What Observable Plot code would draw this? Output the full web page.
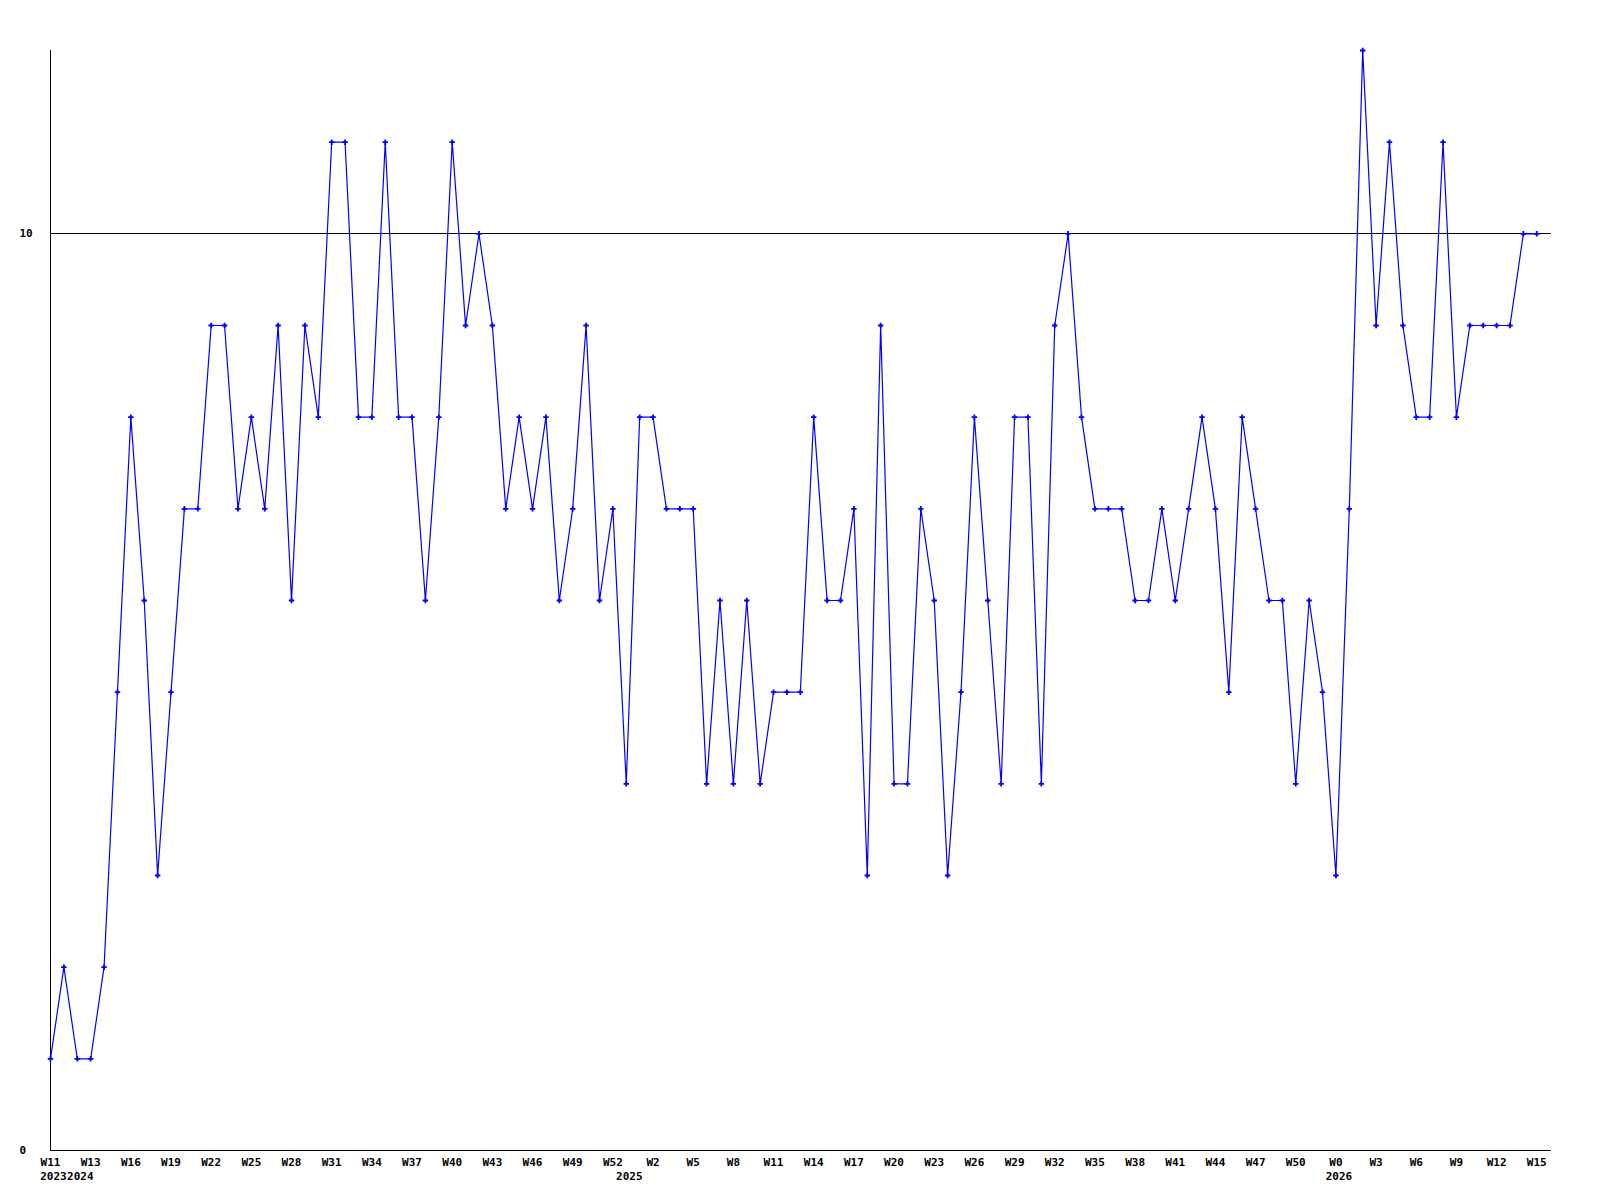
<!DOCTYPE html>
<html>
<head>
<meta charset="utf-8">
<script src="https://cdn.jsdelivr.net/npm/d3@7"></script>
<script src="https://cdn.jsdelivr.net/npm/@observablehq/plot@0.6"></script>
<style>
  html, body { margin: 0; padding: 0; background: #fff; }
  #chart svg { display: block; }
</style>
</head>
<body>
<div id="chart"></div>
<script>
// Weekly values (one per week, in order)
const values = [
  1, 2, 1, 1, 2, 5, 8, 6, 3, 5, 7, 7, 9, 9, 7, 8, 7, 9, 6, 9,
  8, 11, 11, 8, 8, 11, 8, 8, 6, 8, 11, 9, 10, 9, 7, 8, 7, 8, 6, 7,
  9, 6, 7, 4, 8, 8, 7, 7, 7, 4, 6, 4, 6, 4, 5, 5, 5, 8, 6, 6,
  7, 3, 9, 4, 4, 7, 6, 3, 5, 8, 6, 4, 8, 8, 4, 9, 10, 8, 7, 7,
  7, 6, 6, 7, 6, 7, 8, 7, 5, 8, 7, 6, 6, 4, 6, 5, 3, 7, 12, 9,
  11, 9, 8, 8, 11, 8, 9, 9, 9, 9, 10, 10
];
// Week tick labels (every third week)
const weekLabels = [
  "W11", "W13", "W16", "W19", "W22", "W25", "W28", "W31", "W34", "W37",
  "W40", "W43", "W46", "W49", "W52", "W2", "W5", "W8", "W11", "W14",
  "W17", "W20", "W23", "W26", "W29", "W32", "W35", "W38", "W41", "W44",
  "W47", "W50", "W0", "W3", "W6", "W9", "W12", "W15"
];
const weekTickIndex = weekLabels.map((_, k) => k * 3);
// Year labels and the week index where each year starts
const yearLabels = ["2023", "2024", "2025", "2026"];
const yearIndex = [0, 2, 43, 96];
const yTicks = [0, 10];
const refLine = [10];

const data = values.map((v, i) => ({i, v}));
const weekTicks = weekLabels.map((label, k) => ({i: weekTickIndex[k], label}));
const years = yearLabels.map((label, k) => ({i: yearIndex[k], label}));

const font = "'DejaVu Sans Mono', monospace";

const chart = Plot.plot({
  width: 1600,
  height: 1200,
  marginLeft: 50,
  marginRight: 49,
  marginTop: 50,
  marginBottom: 50,
  style: {fontFamily: font, fontSize: "11px", fontWeight: "bold", background: "#fff", color: "#000"},
  x: {domain: [0, 112.1], axis: null},
  y: {domain: [0, 12], axis: null},
  marks: [
    Plot.ruleY(refLine, {stroke: "#000", strokeWidth: 1, shapeRendering: "crispEdges"}),
    Plot.ruleY([0], {stroke: "#000", strokeWidth: 1, shapeRendering: "crispEdges"}),
    Plot.ruleX([0], {stroke: "#000", strokeWidth: 1, shapeRendering: "crispEdges"}),
    Plot.line(data, {x: "i", y: "v", stroke: "#0000ff", strokeWidth: 1.2, curve: "linear"}),
    Plot.dot(data, {x: "i", y: "v", symbol: "cross", r: 2.3, fill: "#0000ff", stroke: "none"}),
    Plot.text(yTicks, {x: 0, y: d => d, text: d => String(d), textAnchor: "start", dx: -31, fill: "#000", fontWeight: "bold"}),
    Plot.text(weekTicks, {x: "i", y: 0, text: "label", textAnchor: "middle", dy: 12, fill: "#000", fontWeight: "bold"}),
    Plot.text(years, {x: "i", y: 0, text: "label", textAnchor: "middle", dx: 3, dy: 26, fill: "#000", fontWeight: "bold"})
  ]
});
document.getElementById("chart").appendChild(chart);
</script>
</body>
</html>
